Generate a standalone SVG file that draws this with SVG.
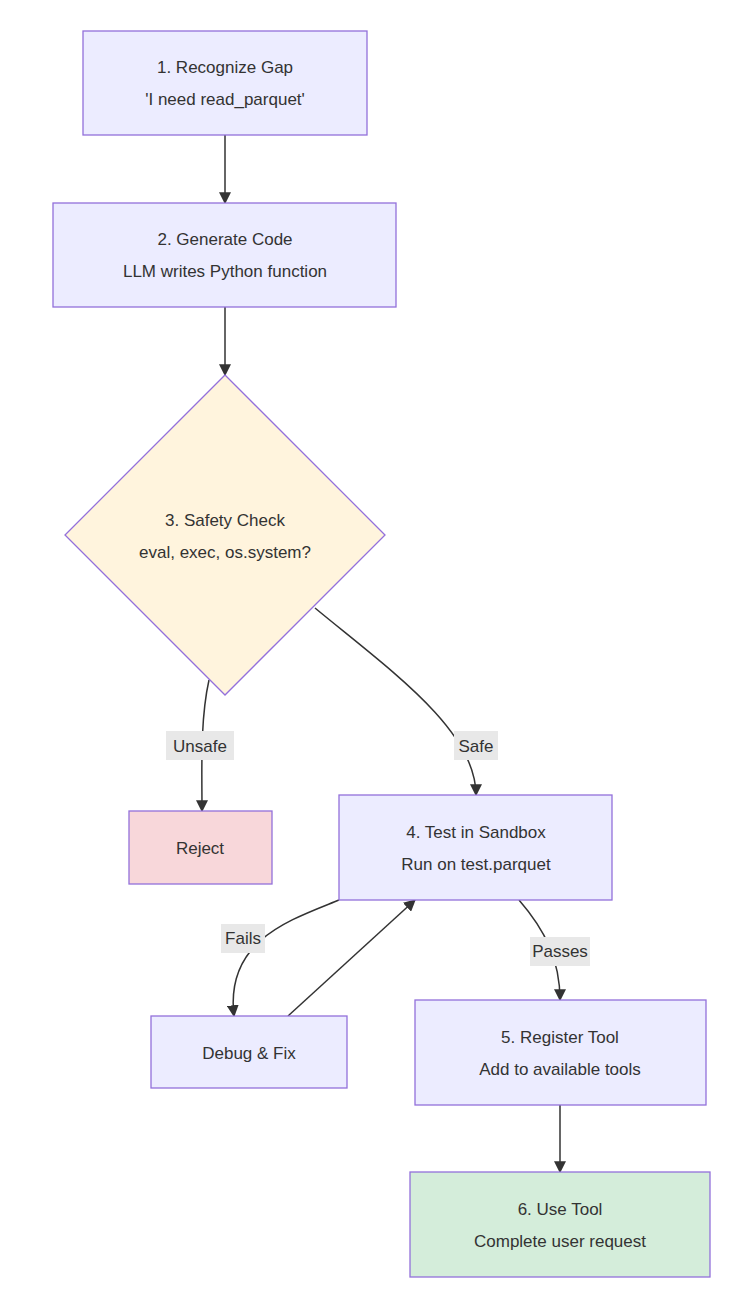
<svg xmlns="http://www.w3.org/2000/svg" width="750" height="1308" viewBox="0 0 750 1308">
<style>
.n{fill:#ececff;stroke:#9370db;stroke-width:1.3}
.t{font-family:"Liberation Sans",Arial,sans-serif;font-size:17px;fill:#333;text-anchor:middle}
.e{fill:none;stroke:#333;stroke-width:1.5;marker-end:url(#a)}
.lb{fill:#e8e8e8}
</style>
<defs><marker id="a" viewBox="0 0 10 10" refX="9" refY="5" markerWidth="8" markerHeight="8" orient="auto"><path d="M0,0L10,5L0,10z" fill="#333"/></marker></defs>
<rect width="750" height="1308" fill="#fff"/>
<g id="edges">
<path class="e" d="M225,135V203"/>
<path class="e" d="M225,307V375"/>
<path class="e" d="M209,680C200,720 202,770 202,811"/>
<path class="e" d="M315,608C390,670 476,730 476,795"/>
<path class="e" d="M339,900C290,920 225,940 234,1016"/>
<path class="e" d="M288,1016L415,900"/>
<path class="e" d="M519,900C545,930 560,960 560,1000"/>
<path class="e" d="M560,1105V1172"/>
<rect class="lb" x="166" y="731" width="68" height="29"/><text class="t" x="200" y="752">Unsafe</text>
<rect class="lb" x="454" y="731" width="44" height="29"/><text class="t" x="476" y="752">Safe</text>
<rect class="lb" x="221" y="924" width="44" height="29"/><text class="t" x="243" y="944">Fails</text>
<rect class="lb" x="530" y="937" width="60" height="29"/><text class="t" x="560" y="957">Passes</text>
</g>
<g id="n1"><rect class="n" x="83" y="31" width="284" height="104"/><text class="t" x="225" y="73">1. Recognize Gap</text><text class="t" x="225" y="105">'I need read_parquet'</text></g>
<g id="n2"><rect class="n" x="53" y="203" width="343" height="104"/><text class="t" x="225" y="245">2. Generate Code</text><text class="t" x="225" y="277">LLM writes Python function</text></g>
<g id="n3"><path d="M225,375L385,535L225,695L65,535Z" fill="#fff4dd" stroke="#9370db" stroke-width="1.3"/><text class="t" x="225" y="526">3. Safety Check</text><text class="t" x="225" y="558">eval, exec, os.system?</text></g>
<g id="rej"><rect x="129" y="811" width="143" height="73" fill="#f8d7da" stroke="#9370db" stroke-width="1.3"/><text class="t" x="200" y="854">Reject</text></g>
<g id="n4"><rect class="n" x="339" y="795" width="273" height="105"/><text class="t" x="476" y="838">4. Test in Sandbox</text><text class="t" x="476" y="870">Run on test.parquet</text></g>
<g id="dbg"><rect class="n" x="151" y="1016" width="196" height="72"/><text class="t" x="249" y="1059">Debug &amp; Fix</text></g>
<g id="n5"><rect class="n" x="415" y="1000" width="291" height="105"/><text class="t" x="560" y="1043">5. Register Tool</text><text class="t" x="560" y="1075">Add to available tools</text></g>
<g id="n6"><rect x="410" y="1172" width="300" height="105" fill="#d4edda" stroke="#9370db" stroke-width="1.3"/><text class="t" x="560" y="1215">6. Use Tool</text><text class="t" x="560" y="1247">Complete user request</text></g>
</svg>
